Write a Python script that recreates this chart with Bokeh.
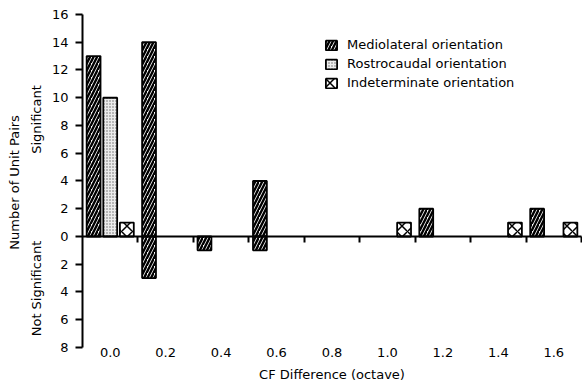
from math import pi
from bokeh.plotting import figure
from bokeh.models import (Range1d, LinearAxis, FixedTicker, Legend, LegendItem,
                          Label, PrintfTickFormatter, CustomJSTickFormatter, ColumnDataSource)
from bokeh.embed import file_html
from bokeh.resources import INLINE

# ---- data ----
bins = [0.0, 0.2, 0.4, 0.6, 0.8, 1.0, 1.2, 1.4, 1.6]          # CF difference (octave), bin centres
bin_edges = [0.1, 0.3, 0.5, 0.7, 0.9, 1.1, 1.3, 1.5, 1.7]
ml_sig = [13, 14, 0, 4, 0, 0, 2, 0, 2]      # Mediolateral, significant
rc_sig = [10, 0, 0, 0, 0, 0, 0, 0, 0]       # Rostrocaudal, significant
ind_sig = [1, 0, 0, 0, 0, 1, 0, 1, 1]       # Indeterminate, significant
ml_not = [0, 3, 1, 1, 0, 0, 0, 0, 0]        # Mediolateral, not significant
rc_not = [0, 0, 0, 0, 0, 0, 0, 0, 0]
ind_not = [0, 0, 0, 0, 0, 0, 0, 0, 0]
y_ticks = [-8, -6, -4, -2, 0, 2, 4, 6, 8, 10, 12, 14, 16]

FONT = "DejaVu Sans"
FS = "13px"
OFFSET = {"ml": -0.06, "rc": 0.0, "ind": 0.06}
BAR_W = 0.05
X_LO, X_HI = -0.1, 1.7          # extent of the drawn axes
Y_LO, Y_HI = -8, 16

# frame covers the whole canvas; axes are placed at fixed data locations
p = figure(width=582, height=385, x_range=Range1d(-0.3958, 1.7036), y_range=Range1d(-10.739, 17.009),
           output_backend="svg", toolbar_location=None, x_axis_location=None, y_axis_location=None,
           min_border_left=0, min_border_right=0, min_border_top=0, min_border_bottom=0)
p.outline_line_color = None
p.grid.visible = False
p.background_fill_color = "white"

def src(vals, key, sign):
    xs = [b + OFFSET[key] for b, v in zip(bins, vals) if v]
    tops = [sign * v for v in vals if v]
    return ColumnDataSource(dict(x=xs, top=tops))

style = dict(line_color="black", line_width=1.8)
ml_kw = dict(fill_color="white", hatch_pattern="/", hatch_scale=7, hatch_weight=2.4, hatch_color="black")
rc_kw = dict(fill_color="#ececec", hatch_pattern=".", hatch_scale=3, hatch_weight=1, hatch_color="#666666")
ind_kw = dict(fill_color="white", hatch_pattern="x", hatch_scale=11, hatch_weight=1.5, hatch_color="black")

r_ml = p.vbar(x="x", top="top", bottom=0, width=BAR_W, source=src(ml_sig, "ml", 1), **style, **ml_kw)
r_rc = p.vbar(x="x", top="top", bottom=0, width=BAR_W, source=src(rc_sig, "rc", 1), **style, **rc_kw)
r_ind = p.vbar(x="x", top="top", bottom=0, width=BAR_W, source=src(ind_sig, "ind", 1), **style, **ind_kw)
p.vbar(x="x", top="top", bottom=0, width=BAR_W, source=src(ml_not, "ml", -1), **style, **ml_kw)
p.vbar(x="x", top="top", bottom=0, width=BAR_W, source=src(rc_not, "rc", -1), **style, **rc_kw)
p.vbar(x="x", top="top", bottom=0, width=BAR_W, source=src(ind_not, "ind", -1), **style, **ind_kw)

# y axis, drawn at the left end of the x extent
ya = LinearAxis(fixed_location=X_LO, bounds=(Y_LO, Y_HI), ticker=FixedTicker(ticks=y_ticks),
                formatter=CustomJSTickFormatter(code="return Math.abs(tick).toString()"))
ya.axis_line_width = 2
ya.major_tick_line_width = 2
ya.major_tick_out = 7
ya.major_tick_in = 0
ya.minor_tick_line_color = None
ya.major_label_text_font = FONT
ya.major_label_text_font_size = FS
ya.major_label_text_color = "black"
ya.major_label_standoff = 7
p.add_layout(ya, "left")

# zero line with bin-edge ticks
za = LinearAxis(fixed_location=0, bounds=(X_LO, X_HI), ticker=FixedTicker(ticks=bin_edges))
za.axis_line_width = 2
za.major_tick_line_width = 2
za.major_tick_in = 6
za.major_tick_out = 0
za.minor_tick_line_color = None
za.major_label_text_color = None
p.add_layout(za, "above")

# bin labels below the bottom of the y extent
xa = LinearAxis(fixed_location=Y_LO, bounds=(X_LO, X_HI), ticker=FixedTicker(ticks=bins),
                formatter=PrintfTickFormatter(format="%.1f"))
xa.axis_line_color = None
xa.major_tick_line_color = None
xa.minor_tick_line_color = None
xa.major_tick_out = 0
xa.major_tick_in = 0
xa.major_label_standoff = 1
xa.major_label_text_font = FONT
xa.major_label_text_font_size = FS
xa.major_label_text_color = "black"
xa.axis_label = "CF Difference (octave)"
xa.axis_label_text_font = FONT
xa.axis_label_text_font_size = FS
xa.axis_label_text_font_style = "normal"
xa.axis_label_text_color = "black"
xa.axis_label_standoff = 6
p.add_layout(xa, "below")

for text, xv, yv in [("Number of Unit Pairs", -0.345, 3.9),
                     ("Significant", -0.266, 8.43),
                     ("Not Significant", -0.266, -3.75)]:
    p.add_layout(Label(x=xv, y=yv, text=text, angle=pi / 2, text_align="center",
                       text_baseline="middle", text_font=FONT, text_font_size=FS,
                       text_color="black"))

legend = Legend(items=[LegendItem(label="Mediolateral orientation", renderers=[r_ml]),
                       LegendItem(label="Rostrocaudal orientation", renderers=[r_rc]),
                       LegendItem(label="Indeterminate orientation", renderers=[r_ind])],
                location=(324, 295), padding=0, margin=0, spacing=4,
                glyph_width=14, glyph_height=12, label_height=14, label_standoff=9,
                border_line_color=None, background_fill_alpha=0,
                label_text_font=FONT, label_text_font_size=FS, label_text_color="black")
p.add_layout(legend)

open("out.html", "w").write(file_html(p, INLINE))
